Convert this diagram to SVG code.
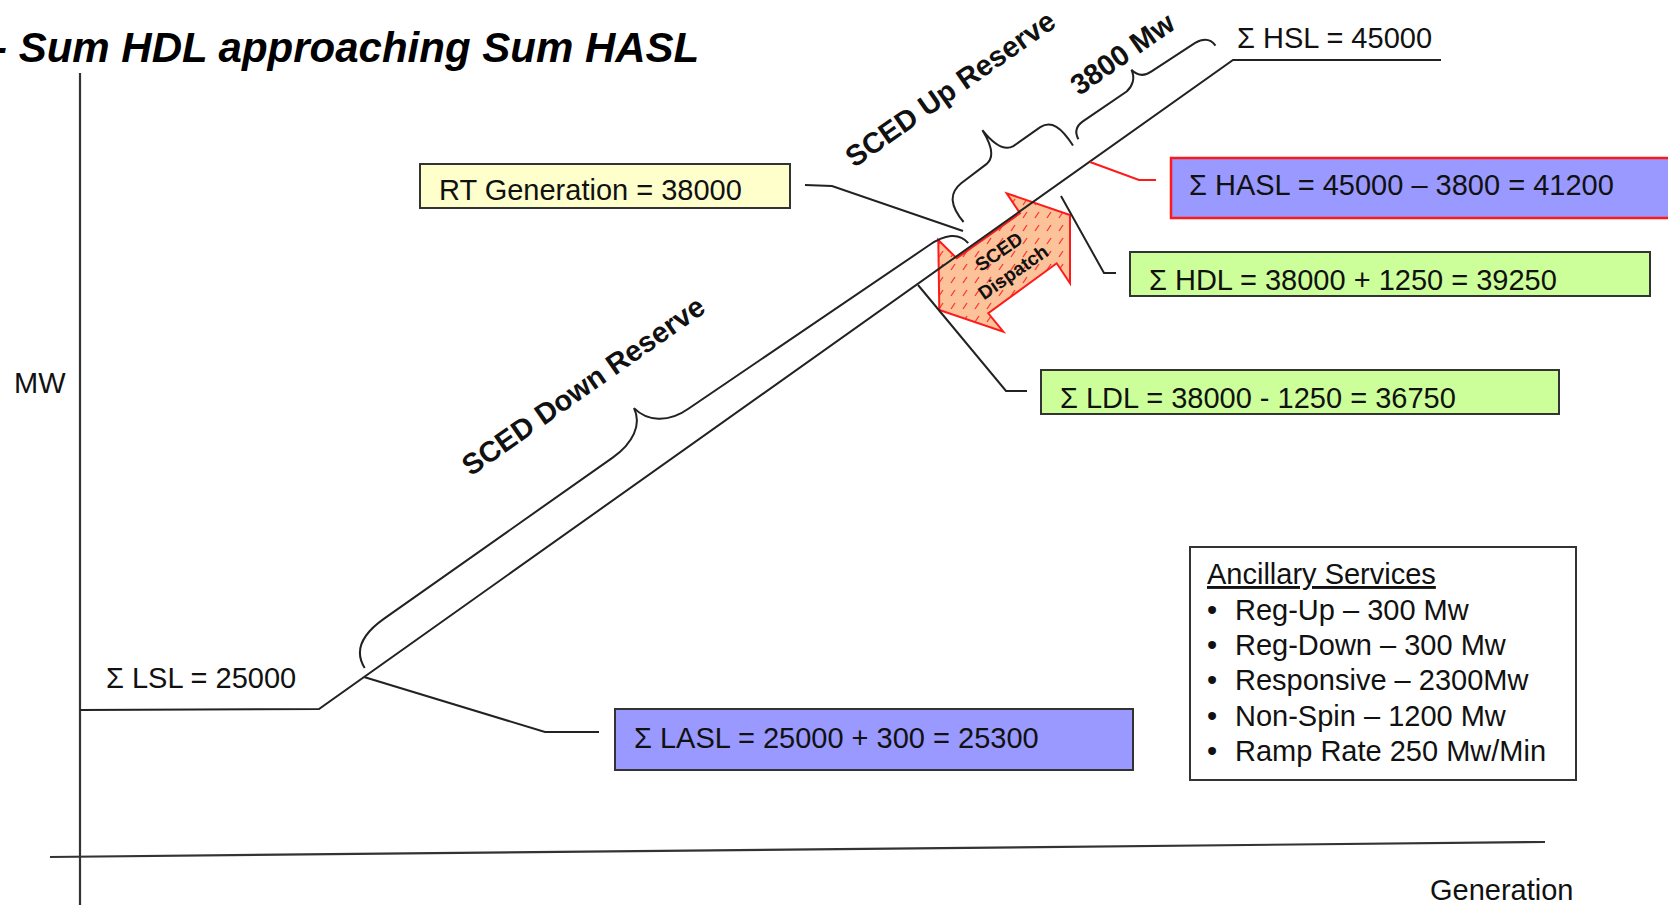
<svg xmlns="http://www.w3.org/2000/svg" width="1668" height="905" viewBox="0 0 1668 905">
<style>
.ln{stroke:#222;stroke-width:2;fill:none}
.ax{stroke:#333;stroke-width:2.2;fill:none}
.box{stroke:#333;stroke-width:2}
.t{font-family:"Liberation Sans",Arial,sans-serif;font-size:29px;fill:#111}
.b{font-weight:bold}
</style>
<defs>
<pattern id="hatch" width="12" height="13" patternUnits="userSpaceOnUse">
<rect width="12" height="13" fill="#FCC39B"/>
<path d="M3,10 L7,4" stroke="#FF3333" stroke-width="1.3"/>
</pattern>
</defs>
<rect width="1668" height="905" fill="#fff"/>

<text id="title" x="-7" y="62" font-family="'Liberation Sans',Arial,sans-serif" font-size="42" font-weight="bold" font-style="italic" fill="#000">- Sum HDL approaching Sum HASL</text>

<g id="axes">
<line class="ax" x1="80" y1="73" x2="80" y2="905"/>
<line class="ax" x1="50" y1="857" x2="1545" y2="842"/>
<text class="t" x="14" y="393">MW</text>
<text class="t" x="1430" y="900">Generation</text>
</g>

<g id="sced-dispatch">
<path d="M938.3,240 L956.7,258.3 L1020,213.3 L1006.7,193.3 L1070,215 L1070,283.3 L1056.7,263.3 L988.3,313.3 L1003.3,331.7 L939.3,310 Z" fill="url(#hatch)" stroke="#FF1A1A" stroke-width="2" stroke-linejoin="miter"/>
<g transform="translate(1006,262) rotate(-35)" font-family="'Liberation Sans',Arial,sans-serif" font-size="19" font-weight="bold" fill="#111" text-anchor="middle">
<text x="0" y="-6">SCED</text>
<text x="0" y="19">Dispatch</text>
</g>
</g>

<g id="supply-curve">
<path class="ln" d="M80,710 L319,709 L1233,60 L1441,60"/>
</g>

<g id="braces" transform="translate(319,709) rotate(-35.37)">
<path id="brace-down" class="ln" d="M61,-7 C62,-25 75,-36 105,-36 L385,-35 C410,-35 428,-45 431,-63 C434,-45 450,-31 475,-31 L765,-25 C785,-25 798,-18 799,-4"/>
<path id="brace-up" class="ln" d="M807.5,-24 C806,-45 812,-56 828,-57 L860,-58 C870,-59 875,-70 876,-88 C877,-70 882,-58 892,-57 L925,-57 C938,-56 942,-45 941,-23"/>
<path id="brace-3800" class="ln" d="M949,-25 C950,-33 954,-37 963,-37 L1016,-36 C1024,-37 1031,-42 1032.5,-51 C1034,-42 1040,-38 1048,-38 L1100,-36 C1110,-35 1115,-30 1115,-22"/>
</g>

<g id="brace-labels" class="t b" font-size="29" font-weight="bold" text-anchor="middle">
<text transform="translate(589,394) rotate(-35)">SCED Down Reserve</text>
<text transform="translate(956,97) rotate(-35)">SCED Up Reserve</text>
<text transform="translate(1128,62) rotate(-35)">3800 Mw</text>
</g>

<g id="connectors">
<path class="ln" d="M805,185 L832,186 L963,231"/>
<path d="M1090,162 L1139,180 L1156,180" fill="none" stroke="#FF1A1A" stroke-width="2"/>
<path class="ln" d="M1061,196 L1104,273 L1116,273"/>
<path class="ln" d="M918,285 L1006,391 L1027,391"/>
<path class="ln" d="M364,677 L545,732 L599,732"/>
</g>

<g id="hsl">
<text class="t" x="1237" y="48">Σ HSL = 45000</text>
</g>
<g id="lsl">
<text class="t" x="106" y="688">Σ LSL = 25000</text>
</g>

<g id="rt-generation">
<rect class="box" x="420" y="164" width="370" height="44" fill="#FFFFCC"/>
<text class="t" x="439" y="200">RT Generation = 38000</text>
</g>

<g id="hasl">
<rect x="1171" y="158" width="520" height="60" fill="#9999FF" stroke="#FF1A1A" stroke-width="2.5"/>
<text class="t" x="1189" y="195">Σ HASL = 45000 – 3800 = 41200</text>
</g>

<g id="hdl">
<rect class="box" x="1130" y="252" width="520" height="44" fill="#CCFF99"/>
<text class="t" x="1149" y="290">Σ HDL = 38000 + 1250 = 39250</text>
</g>

<g id="ldl">
<rect class="box" x="1041" y="370" width="518" height="44" fill="#CCFF99"/>
<text class="t" x="1060" y="408">Σ LDL = 38000 - 1250 = 36750</text>
</g>

<g id="lasl">
<rect class="box" x="615" y="709" width="518" height="61" fill="#9999FF"/>
<text class="t" x="634" y="748">Σ LASL = 25000 + 300 = 25300</text>
</g>

<g id="ancillary">
<rect class="box" x="1190" y="547" width="386" height="233" fill="#fff"/>
<text class="t" x="1207" y="584" text-decoration="underline">Ancillary Services</text>
<text class="t" x="1207" y="620">•</text><text class="t" x="1235" y="620">Reg-Up – 300 Mw</text>
<text class="t" x="1207" y="655">•</text><text class="t" x="1235" y="655">Reg-Down – 300 Mw</text>
<text class="t" x="1207" y="690">•</text><text class="t" x="1235" y="690">Responsive – 2300Mw</text>
<text class="t" x="1207" y="726">•</text><text class="t" x="1235" y="726">Non-Spin – 1200 Mw</text>
<text class="t" x="1207" y="761">•</text><text class="t" x="1235" y="761">Ramp Rate 250 Mw/Min</text>
</g>
</svg>
